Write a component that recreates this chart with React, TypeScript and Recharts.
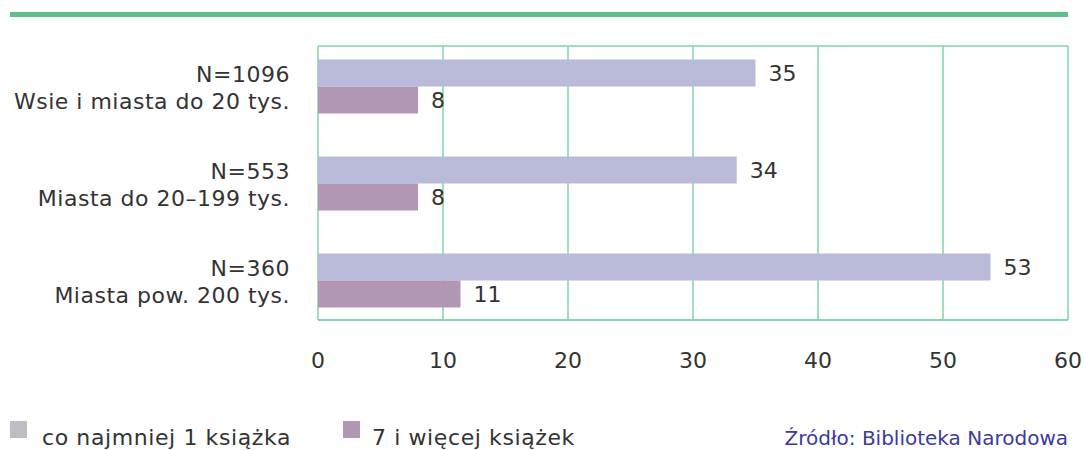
import { BarChart, Bar, XAxis, YAxis, CartesianGrid, LabelList } from 'recharts'

const cities = ['Wsie i miasta do 20 tys.', 'Miasta do 20–199 tys.', 'Miasta pow. 200 tys.']
const sampleSizes = ['N=1096', 'N=553', 'N=360']
const atLeastOne = [35, 33.5, 53.8]
const sevenPlus = [8, 8, 11.4]
const atLeastOneLabels = ['35', '34', '53']
const sevenPlusLabels = ['8', '8', '11']
const xTicks = [0, 10, 20, 30, 40, 50, 60]

const data = cities.map((city, i) => ({
  city,
  atLeastOne: atLeastOne[i],
  sevenPlus: sevenPlus[i],
  atLeastOneLabel: atLeastOneLabels[i],
  sevenPlusLabel: sevenPlusLabels[i],
}))

const FONT = '"DejaVu Sans", sans-serif'
const TEXT = '#333333'
const GRID = '#7fd3a8'

function CityTick(props: any) {
  const { x, y, payload } = props
  const i = cities.indexOf(payload.value)
  return (
    <text textAnchor="end" fontSize={22} fill={TEXT} fontFamily={FONT} letterSpacing={0.5}>
      <tspan x={x} y={y - 4}>{sampleSizes[i]}</tspan>
      <tspan x={x} y={y + 23}>{payload.value}</tspan>
    </text>
  )
}

export default function App() {
  return (
    <div style={{ position: 'absolute', left: 0, top: 0, width: 1085, height: 450, background: '#fff', fontFamily: FONT }}>
      <div style={{ position: 'absolute', left: 10, top: 12, width: 1058, height: 5, background: '#5ebf8c' }} />
      <BarChart
        width={1085}
        height={450}
        data={data}
        layout="vertical"
        margin={{ top: 46, right: 17, bottom: 70, left: 18 }}
        barGap={0}
      >
        <CartesianGrid
          stroke={GRID}
          strokeWidth={1.5}
          horizontalCoordinatesGenerator={({ offset }: any) => [offset.top, offset.top + offset.height]}
        />
        <XAxis
          type="number"
          domain={[0, 60]}
          ticks={xTicks}
          height={60}
          tickSize={0}
          tickMargin={32}
          axisLine={{ stroke: GRID, strokeWidth: 1.5 }}
          tick={{ fontSize: 22, fill: TEXT, fontFamily: FONT }}
          interval={0}
        />
        <YAxis
          type="category"
          dataKey="city"
          width={300}
          tickSize={0}
          tickMargin={28}
          axisLine={false}
          tick={<CityTick />}
          padding={{ top: -8.5, bottom: -8.5 }}
        />
        <Bar dataKey="atLeastOne" fill="#babbd8" barSize={27} isAnimationActive={false}>
          <LabelList dataKey="atLeastOneLabel" position="right" offset={13} fontSize={22} fill={TEXT} fontFamily={FONT} />
        </Bar>
        <Bar dataKey="sevenPlus" fill="#b297b4" barSize={27} isAnimationActive={false}>
          <LabelList dataKey="sevenPlusLabel" position="right" offset={13} fontSize={22} fill={TEXT} fontFamily={FONT} />
        </Bar>
      </BarChart>
      <div style={{ position: 'absolute', left: 10, top: 421, width: 17, height: 17, background: '#bdbdc3' }} />
      <div style={{ position: 'absolute', left: 42, top: 425, fontSize: 22, color: TEXT, lineHeight: '26px', whiteSpace: 'nowrap', letterSpacing: 0.6 }}>
        co najmniej 1 książka
      </div>
      <div style={{ position: 'absolute', left: 343, top: 421, width: 17, height: 17, background: '#b297b4' }} />
      <div style={{ position: 'absolute', left: 372, top: 425, fontSize: 22, color: TEXT, lineHeight: '26px', whiteSpace: 'nowrap', letterSpacing: 0.6 }}>
        7 i więcej książek
      </div>
      <div style={{ position: 'absolute', right: 17, top: 425, fontSize: 20, color: '#3d3a9a', lineHeight: '26px', whiteSpace: 'nowrap' }}>
        Źródło: Biblioteka Narodowa
      </div>
    </div>
  )
}
